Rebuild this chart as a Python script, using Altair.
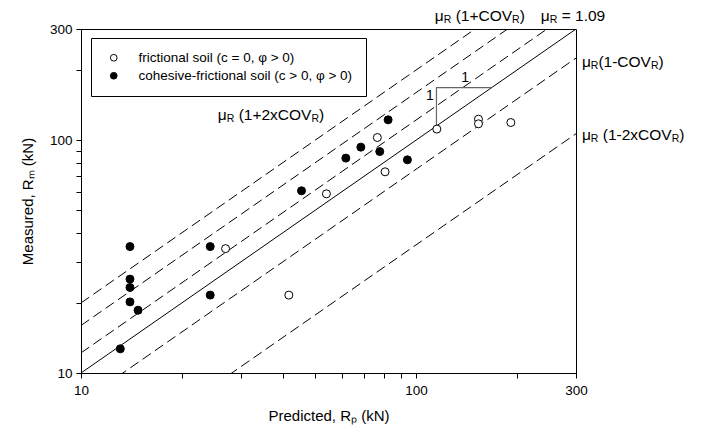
import altair as alt
import numpy as np
import pandas as pd

# ---------------- data ----------------
fric_rp = [27.0, 41.7, 54.0, 76.6, 80.8, 115.3, 153.5, 153.5, 191.7]
fric_rm = [34.2, 21.6, 58.8, 102.6, 73.1, 111.5, 123.0, 117.5, 119.0]
coh_rp = [13.1, 14.0, 14.0, 14.0, 14.0, 14.8, 24.3, 24.3, 45.5, 61.7, 68.4, 77.9, 82.5, 94.2]
coh_rm = [12.7, 34.9, 25.3, 23.3, 20.2, 18.6, 34.9, 21.6, 60.6, 83.7, 93.3, 89.3, 122.2, 82.3]
soil_names = ["frictional soil (c = 0, \u03c6 > 0)", "cohesive-frictional soil (c > 0, \u03c6 > 0)"]

dashed_factors = [2.0, 1.6, 1.22, 0.75, 0.355]
solid_factor = [1.0]
line_x = [10, 300]

tri_rp = [115, 115, 168]
tri_rm = [115, 168, 168]
one_rp = [110, 140]
one_rm = [155, 185]

tick_vals = [10, 20, 30, 40, 50, 60, 70, 80, 90, 100, 200, 300]

# annotation labels: pieces (text, is_subscript), anchor rp, anchor rm
ann_labels = [
    ([("\u03bc", 0), ("R", 1), (" (1+2xCOV", 0), ("R", 1), (")", 0)], 25.6, 128.4),
    ([("\u03bc", 0), ("R", 1), (" (1+COV", 0), ("R", 1), (")", 0)], 113.7, 340.0),
    ([("\u03bc", 0), ("R", 1), (" = 1.09", 0)], 235.6, 340.0),
    ([("\u03bc", 0), ("R", 1), ("(1-COV", 0), ("R", 1), (")", 0)], 312.4, 217.0),
    ([("\u03bc", 0), ("R", 1), (" (1-2xCOV", 0), ("R", 1), (")", 0)], 312.4, 105.4),
]

# ---------------- layout ----------------
W, H = 495, 344
DX = W / np.log10(30.0)
FONT = "Liberation Sans"
ANN_SIZE = 15.5
SUB_SIZE = 10.5

AW = {"\u03bc": 577, "R": 722, " ": 278, "(": 333, ")": 333, "1": 556, "+": 584,
      "-": 333, "=": 584, "2": 556, "x": 500, "C": 722, "O": 778, "V": 667,
      ".": 278, "0": 556, "9": 556}


def text_width(s, size):
    return sum(AW.get(c, 556) for c in s) * size / 1000.0


rows = []
for pieces, bx, by in ann_labels:
    off = 0.0
    for txt, sub in pieces:
        size = SUB_SIZE if sub else ANN_SIZE
        stripped = txt.lstrip(" ")
        off += text_width(txt[: len(txt) - len(stripped)], size)
        rows.append({"rp": bx * 10 ** (off / DX), "rm": by, "t": stripped, "sub": sub})
        off += text_width(stripped, size)
ann_df = pd.DataFrame(rows)

pts = pd.DataFrame({
    "rp": fric_rp + coh_rp,
    "rm": fric_rm + coh_rm,
    "soil": [soil_names[0]] * len(fric_rp) + [soil_names[1]] * len(coh_rp),
})

dash_df = pd.DataFrame([{"rp": x, "rm": f * x, "f": f} for f in dashed_factors for x in line_x])
solid_df = pd.DataFrame([{"rp": x, "rm": f * x, "f": f} for f in solid_factor for x in line_x])
tri_df = pd.DataFrame({"rp": tri_rp, "rm": tri_rm, "o": list(range(len(tri_rp)))})
one_df = pd.DataFrame({"rp": one_rp, "rm": one_rm, "t": ["1", "1"]})

xs = alt.Scale(type="log", domain=[10, 300], nice=False)
ys = alt.Scale(type="log", domain=[10, 300], nice=False)

label_expr = "(datum.value == 10 || datum.value == 100 || datum.value == 300) ? datum.value : ''"

x_axis = alt.Axis(values=tick_vals, labelExpr=label_expr, grid=False, tickSize=5,
                  title="Predicted, R\u209a (kN)", titlePadding=12, labelPadding=5,
                  labelFlush=False)
y_axis = alt.Axis(values=tick_vals, labelExpr=label_expr, grid=False, tickSize=5,
                  title="Measured, R\u2098 (kN)", titlePadding=14, labelPadding=4)

X = alt.X("rp:Q", scale=xs, axis=x_axis)
Y = alt.Y("rm:Q", scale=ys, axis=y_axis)
Xn = alt.X("rp:Q", scale=xs)
Yn = alt.Y("rm:Q", scale=ys)

dashed = alt.Chart(dash_df).mark_line(clip=True, color="black", strokeWidth=1,
                                      strokeDash=[10, 5]).encode(x=X, y=Y, detail="f:N")
solid = alt.Chart(solid_df).mark_line(clip=True, color="black", strokeWidth=1).encode(
    x=Xn, y=Yn, detail="f:N")
tri = alt.Chart(tri_df).mark_line(color="#666666", strokeWidth=1.2).encode(
    x=Xn, y=Yn, order="o:Q")
ones = alt.Chart(one_df).mark_text(font=FONT, fontSize=14, color="black").encode(
    x=Xn, y=Yn, text="t:N")

points = alt.Chart(pts).mark_point(filled=True, shape="circle", size=64, stroke="black",
                                   strokeWidth=1, opacity=1).encode(
    x=Xn, y=Yn,
    fill=alt.Fill("soil:N", scale=alt.Scale(domain=soil_names, range=["white", "black"]),
                  legend=alt.Legend(title=None, orient="none", legendX=10, legendY=9,
                                    strokeColor="black", padding=13, symbolType="circle",
                                    symbolSize=45, symbolStrokeColor="black",
                                    symbolStrokeWidth=1, labelFont=FONT, labelFontSize=13.5,
                                    labelColor="black", labelOffset=18, rowPadding=3,
                                    symbolOffset=3, labelLimit=0)),
)

ann_main = alt.Chart(ann_df[ann_df["sub"] == 0]).mark_text(
    font=FONT, fontSize=ANN_SIZE, align="left", baseline="middle", color="black",
    clip=False).encode(x=Xn, y=Yn, text="t:N")
ann_sub = alt.Chart(ann_df[ann_df["sub"] == 1]).mark_text(
    font=FONT, fontSize=SUB_SIZE, align="left", baseline="middle", color="black", dy=4,
    clip=False).encode(x=Xn, y=Yn, text="t:N")

chart = alt.layer(dashed, solid, tri, ones, points, ann_main, ann_sub).properties(
    width=W, height=H,
    autosize=alt.AutoSizeParams(type="none"),
    padding={"left": 73, "top": 21, "right": 118, "bottom": 58},
).configure_view(stroke="black", strokeWidth=1).configure_axis(
    domainColor="black", tickColor="black", labelColor="black", titleColor="black",
    labelFont=FONT, titleFont=FONT, labelFontSize=13.5, titleFontSize=15,
    titleFontWeight="normal", domainWidth=1, tickWidth=1,
)

chart.save("out.html", embed_options={"renderer": "svg", "actions": False})
